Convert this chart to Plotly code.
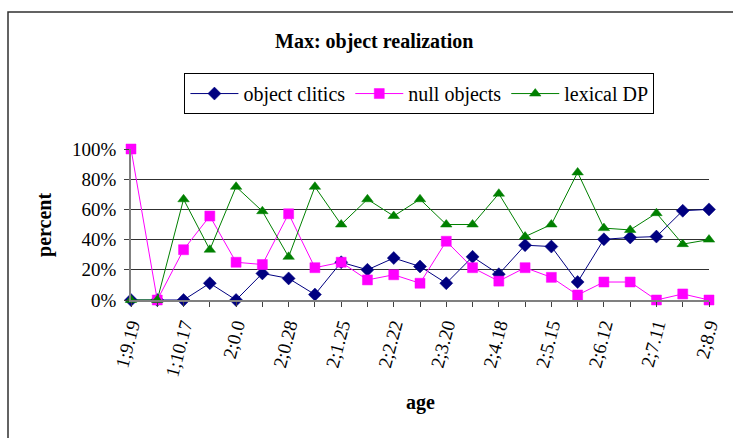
import plotly.graph_objects as go

# Age labels shown on the x axis (every other session)
age_labels = ["1;9.19", "1;10.17", "2;0.0", "2;0.28", "2;1.25", "2;2.22",
              "2;3.20", "2;4.18", "2;5.15", "2;6.12", "2;7.11", "2;8.9"]

# Percent of objects per session
object_clitics = [0, 0, 0, 11.1, 0, 17.6, 14.3, 3.6, 25, 20, 27.8, 22.2,
                  11.1, 28.6, 17.1, 36.3, 35.4, 11.9, 40.2, 41.4, 42.0, 59.1, 60]
null_objects = [100, 0, 33.3, 55.6, 25, 23.5, 57.1, 21.4, 25, 13.3, 16.7, 11.1,
                38.9, 21.4, 12.5, 21.4, 15.0, 3.3, 11.9, 11.9, 0, 4.0, 0]
lexical_dp = [0, 0, 66.7, 33.3, 75, 58.8, 28.6, 75, 50, 66.7, 55.6, 66.7,
              50, 50, 70.4, 42.0, 50, 84.5, 47.6, 46.4, 57.5, 37.0, 40]

n = len(object_clitics)
xs = list(range(n))
tick_text = []
for i in range(n):
    tick_text.append(age_labels[i // 2] if i % 2 == 0 else "")

FONT = "Liberation Serif, Times New Roman, serif"

series = [
    ("object clitics", object_clitics, "#000080", "diamond", 10),
    ("null objects", null_objects, "#FF00FF", "square", 10),
    ("lexical DP", lexical_dp, "#008000", "triangle-up", 10),
]

fig = go.Figure()
for name, vals, color, symbol, size in series:
    fig.add_trace(go.Scatter(
        x=xs, y=vals, name=name, mode="lines+markers",
        line=dict(color=color, width=1),
        marker=dict(symbol=symbol, size=size, color=color,
                    line=dict(color=color, width=0.5)),
        cliponaxis=False,
    ))

fig.update_layout(
    width=733, height=438,
    margin=dict(l=131, r=24, t=149, b=138),
    paper_bgcolor="white", plot_bgcolor="white",
    font=dict(family=FONT, size=19, color="black"),
    showlegend=True,
    legend=dict(
        orientation="h", x=0.499, y=1.503, xanchor="center", yanchor="top",
        bordercolor="black", borderwidth=1, bgcolor="white",
        font=dict(family=FONT, size=20, color="black"), itemwidth=48,
        tracegroupgap=0,
    ),
    xaxis=dict(
        range=[0, n - 1], tickmode="array", tickvals=xs, ticktext=tick_text,
        tickangle=-75, showgrid=False, zeroline=False,
        showline=True, linecolor="#808080", linewidth=1.5,
        ticks="outside", ticklen=5, tickcolor="#404040",
        tickfont=dict(family=FONT, size=19),
    ),
    yaxis=dict(
        range=[0, 100], dtick=20, ticksuffix="%",
        showgrid=True, gridcolor="#303030", gridwidth=1,
        zeroline=False, showline=True, linecolor="#808080", linewidth=1.5,
        ticks="outside", ticklen=5, tickcolor="#404040",
        tickfont=dict(family=FONT, size=19), ticklabelstandoff=4,
    ),
    annotations=[
        dict(text="<b>Max: object realization</b>", xref="paper", yref="paper",
             x=0.42, y=1.712, xanchor="center", yanchor="middle",
             showarrow=False, font=dict(family=FONT, size=20)),
        dict(text="<b>percent</b>", xref="paper", yref="paper",
             x=-0.1488, y=0.497, xanchor="center", yanchor="middle",
             textangle=-90, showarrow=False, font=dict(family=FONT, size=20)),
        dict(text="<b>age</b>", xref="paper", yref="paper",
             x=0.5, y=-0.682, xanchor="center", yanchor="middle",
             showarrow=False, font=dict(family=FONT, size=20)),
    ],
    shapes=[
        dict(type="rect", xref="paper", yref="paper",
             x0=-0.2128, x1=1.3, y0=-1.6, y1=1.907,
             line=dict(color="#303030", width=1.5), layer="below"),
    ],
)

fig.write_html("out.html")
